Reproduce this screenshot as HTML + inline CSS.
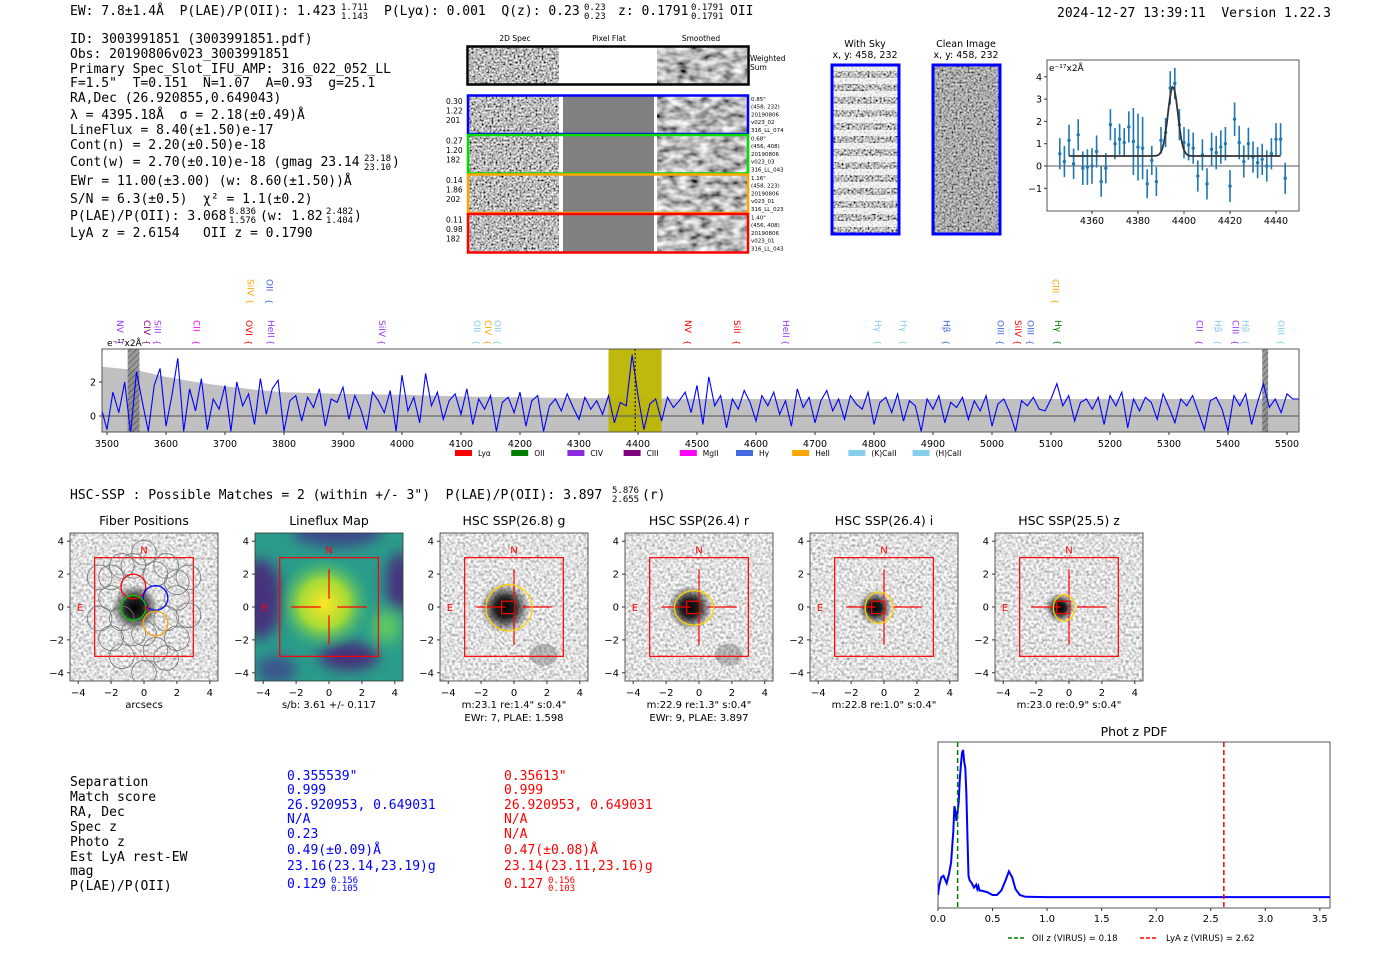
<!DOCTYPE html>
<html><head><meta charset="utf-8">
<style>
html,body{margin:0;padding:0;background:#fff;}
svg{display:block;}
.m{font-family:"DejaVu Sans Mono","Liberation Mono",monospace;font-size:13px;fill:#000;}
.f{font-size:9px;}
.s{font-family:"DejaVu Sans","Liberation Sans",sans-serif;}
</style></head>
<body>
<svg id="root" width="1400" height="953" viewBox="0 0 1400 953" xmlns="http://www.w3.org/2000/svg">
<defs>
<filter id="nz2d" x="0" y="0" width="1" height="1"><feTurbulence type="fractalNoise" baseFrequency="0.5" numOctaves="2" seed="2"/><feColorMatrix type="matrix" values="1.9 0 0 0 -0.45  1.9 0 0 0 -0.45  1.9 0 0 0 -0.45  0 0 0 0 1"/></filter>
<filter id="nzsm" x="0" y="0" width="1" height="1"><feTurbulence type="fractalNoise" baseFrequency="0.09 0.15" numOctaves="2" seed="5"/><feColorMatrix type="matrix" values="1.5 0 0 0 -0.25  1.5 0 0 0 -0.25  1.5 0 0 0 -0.25  0 0 0 0 1"/></filter>
<filter id="nzhsc" x="0" y="0" width="1" height="1"><feTurbulence type="fractalNoise" baseFrequency="0.38" numOctaves="1" seed="7"/><feColorMatrix type="matrix" values="1.4 0 0 0 0.05  1.4 0 0 0 0.05  1.4 0 0 0 0.05  0 0 0 0 1"/></filter>
<filter id="blur6" x="-0.2" y="-0.2" width="1.4" height="1.4"><feGaussianBlur stdDeviation="7"/></filter>
<radialGradient id="blob"><stop offset="0" stop-color="#000"/><stop offset="0.4" stop-color="#000" stop-opacity="0.85"/><stop offset="1" stop-color="#000" stop-opacity="0"/></radialGradient>
<radialGradient id="ylw"><stop offset="0" stop-color="#fde725"/><stop offset="0.5" stop-color="#a5db36"/><stop offset="1" stop-color="#35b779" stop-opacity="0"/></radialGradient>
<pattern id="stripes" width="10" height="13" patternUnits="userSpaceOnUse"><rect x="0" y="0" width="10" height="6" fill="#fff" opacity="0.75"/></pattern>
<pattern id="hatch" width="6" height="6" patternUnits="userSpaceOnUse"><rect width="6" height="6" fill="#888"/><path d="M0 6 L6 0" stroke="#444" stroke-width="0.8"/></pattern>
<clipPath id="specClip"><rect x="102" y="349" width="1197" height="83"/></clipPath>
<clipPath id="insClip"><rect x="1047" y="60" width="252" height="151"/></clipPath>
<clipPath id="pdfClip"><rect x="938" y="742" width="392" height="166"/></clipPath>
</defs>

<g>
<text class="m" x="70" y="15" xml:space="preserve">EW: 7.8±1.4Å  P(LAE)/P(OII): 1.423</text>
<text class="m f" x="341" y="10">1.711</text><text class="m f" x="341" y="19">1.143</text>
<text class="m" x="384" y="15" xml:space="preserve">P(Lyα): 0.001  Q(z): 0.23</text>
<text class="m f" x="584" y="10">0.23</text><text class="m f" x="584" y="19">0.23</text>
<text class="m" x="618" y="15">z: 0.1791</text>
<text class="m f" x="691" y="10">0.1791</text><text class="m f" x="691" y="19">0.1791</text>
<text class="m" x="730" y="15">OII</text>
<text class="m" x="1057" y="17" xml:space="preserve">2024-12-27 13:39:11  Version 1.22.3</text>
</g>

<g>
<text class="m" x="70" y="43">ID: 3003991851 (3003991851.pdf)</text>
<text class="m" x="70" y="58">Obs: 20190806v023_3003991851</text>
<text class="m" x="70" y="73">Primary Spec_Slot_IFU_AMP: 316_022_052_LL</text>
<text class="m" x="70" y="87" xml:space="preserve">F=1.5"  T=0.151  N=1.07  A=0.93  g=25.1</text>
<text class="m" x="70" y="102">RA,Dec (26.920855,0.649043)</text>
<text class="m" x="70" y="119" xml:space="preserve">λ = 4395.18Å  σ = 2.18(±0.49)Å</text>
<text class="m" x="70" y="134">LineFlux = 8.40(±1.50)e-17</text>
<text class="m" x="70" y="149">Cont(n) = 2.20(±0.50)e-18</text>
<text class="m" x="70" y="166">Cont(w) = 2.70(±0.10)e-18 (gmag 23.14</text>
<text class="m f" x="364" y="161">23.18</text><text class="m f" x="364" y="170">23.10</text>
<text class="m" x="392" y="166">)</text>
<text class="m" x="70" y="185">EWr = 11.00(±3.00) (w: 8.60(±1.50))Å</text>
<text class="m" x="70" y="203" xml:space="preserve">S/N = 6.3(±0.5)  χ² = 1.1(±0.2)</text>
<text class="m" x="70" y="220">P(LAE)/P(OII): 3.068</text>
<text class="m f" x="229" y="214">8.836</text><text class="m f" x="229" y="223">1.576</text>
<text class="m" x="260" y="220">(w: 1.82</text>
<text class="m f" x="326" y="214">2.482</text><text class="m f" x="326" y="223">1.404</text>
<text class="m" x="354" y="220">)</text>
<text class="m" x="70" y="237" xml:space="preserve">LyA z = 2.6154   OII z = 0.1790</text>
</g>

<g class="s">
<text x="515" y="41" font-size="7.5" text-anchor="middle">2D Spec</text>
<text x="609" y="41" font-size="7.5" text-anchor="middle">Pixel Flat</text>
<text x="701" y="41" font-size="7.5" text-anchor="middle">Smoothed</text>
<g>
<rect x="469" y="47" width="90" height="37" fill="#fff" filter="url(#nz2d)"/>
<rect x="657" y="47" width="90" height="37" fill="#fff" filter="url(#nzsm)"/>
<rect x="467.5" y="46.5" width="281" height="38" fill="none" stroke="#000" stroke-width="2.5"/>
<text x="750" y="61" font-size="7.5">Weighted</text><text x="750" y="70" font-size="7.5">Sum</text>
</g>
<g id="rows"></g>
</g>

<g class="s">
<text x="865" y="47" font-size="9.5" text-anchor="middle">With Sky</text>
<text x="865" y="58" font-size="9.5" text-anchor="middle">x, y: 458, 232</text>
<rect x="832" y="65" width="67" height="169" fill="#fff" filter="url(#nz2d)"/>
<rect x="832" y="65" width="67" height="169" fill="url(#stripes)"/>
<rect x="832" y="65" width="67" height="169" fill="none" stroke="#0000ff" stroke-width="3"/>
</g>
<g class="s">
<text x="966" y="47" font-size="9.5" text-anchor="middle">Clean Image</text>
<text x="966" y="58" font-size="9.5" text-anchor="middle">x, y: 458, 232</text>
<rect x="933" y="65" width="67" height="169" fill="#fff" filter="url(#nz2d)"/>
<rect x="933" y="65" width="67" height="169" fill="#777" opacity="0.25"/>
<rect x="933" y="65" width="67" height="169" fill="none" stroke="#0000ff" stroke-width="3"/>
</g>

<g id="inset" class="s"></g>
<g id="spec" class="s"></g>

<text class="m" x="70" y="499" xml:space="preserve">HSC-SSP : Possible Matches = 2 (within +/- 3")  P(LAE)/P(OII): 3.897</text>
<text class="m f" x="612" y="493">5.876</text><text class="m f" x="612" y="502">2.655</text>
<text class="m" x="642" y="499">(r)</text>
<g id="panels" class="s"></g>

<g class="m">
<text x="70" y="786">Separation</text><text x="70" y="801">Match score</text><text x="70" y="816">RA, Dec</text><text x="70" y="831">Spec z</text><text x="70" y="846">Photo z</text><text x="70" y="861">Est LyA rest-EW</text><text x="70" y="875">mag</text><text x="70" y="890">P(LAE)/P(OII)</text>
<text x="287" y="780" style="fill:#00f">0.355539"</text><text x="287" y="794" style="fill:#00f">0.999</text><text x="287" y="809" style="fill:#00f">26.920953, 0.649031</text><text x="287" y="823" style="fill:#00f">N/A</text><text x="287" y="838" style="fill:#00f">0.23</text><text x="287" y="854" style="fill:#00f">0.49(±0.09)Å</text><text x="287" y="870" style="fill:#00f">23.16(23.14,23.19)g</text><text x="287" y="888" style="fill:#00f">0.129</text>
<text x="331" y="883" font-size="9" style="fill:#00f">0.156</text><text x="331" y="891" font-size="9" style="fill:#00f">0.105</text>
<text x="504" y="780" style="fill:#f00">0.35613"</text><text x="504" y="794" style="fill:#f00">0.999</text><text x="504" y="809" style="fill:#f00">26.920953, 0.649031</text><text x="504" y="823" style="fill:#f00">N/A</text><text x="504" y="838" style="fill:#f00">N/A</text><text x="504" y="854" style="fill:#f00">0.47(±0.08)Å</text><text x="504" y="870" style="fill:#f00">23.14(23.11,23.16)g</text><text x="504" y="888" style="fill:#f00">0.127</text>
<text x="548" y="883" font-size="9" style="fill:#f00">0.156</text><text x="548" y="891" font-size="9" style="fill:#f00">0.103</text>
</g>

<g id="pdf" class="s"></g>
</svg>

<script>
// ---------- data ----------
const specStart = 3490;
const specStep = 10;
const specFlux = [
0.5,-0.8,1.4,0.2,2.0,-1.0,2.6,0.8,-0.9,1.8,
2.8,-0.6,1.2,3.4,-0.9,1.6,0.3,2.2,-0.8,1.0,
0.4,1.8,-0.9,2.0,0.6,1.3,-0.5,2.2,0.1,1.6,
2.1,-0.9,0.9,1.2,-0.3,1.1,0.5,1.6,-0.6,1.0,
0.8,1.7,-0.2,1.2,0.4,-0.8,1.4,0.9,0.2,1.5,
-0.9,2.4,0.3,1.1,-0.4,2.5,0.6,1.4,-0.2,0.9,
1.3,0.1,1.6,-0.5,1.0,0.4,1.2,-0.9,0.8,1.1,
0.2,1.4,-0.6,0.9,1.2,-0.9,0.6,1.0,0.3,1.3,
0.5,-0.2,1.1,0.4,0.9,0.1,1.2,-0.4,0.8,0.6,
3.6,1.2,-0.8,0.7,1.0,-0.3,1.1,0.5,0.9,1.4,
0.2,1.8,-0.5,2.3,0.6,1.2,-0.7,1.0,0.4,1.5,
0.8,-0.3,1.2,0.6,1.4,0.1,0.9,-0.6,1.6,0.5,
1.1,-0.4,0.9,1.5,0.3,1.0,-0.2,1.2,0.7,0.4,
1.4,-0.5,0.8,1.1,0.2,1.3,-0.3,0.9,0.6,-0.9,
1.0,0.4,1.2,-0.4,0.8,0.5,1.1,-0.2,0.9,0.3,
1.2,-0.6,0.7,1.0,0.2,-0.9,0.9,0.6,1.1,0.4,
0.3,1.0,1.9,0.6,1.2,-0.3,0.8,1.0,0.4,1.1,
-0.5,1.2,0.6,1.4,-0.7,1.0,0.3,1.1,0.8,-0.2,
1.3,0.5,-0.4,1.0,0.6,1.2,0.2,-0.8,0.9,1.1,
0.4,-0.9,1.2,0.6,1.3,-0.5,0.8,1.9,0.5,1.0,
0.2,1.3,1.0,1.0];
const errWave = [3490,3550,3600,3650,3700,3750,3800,3900,4000,4100,4200,4300,4400,4500,5500,5520];
const errVal  = [2.9,2.7,2.3,2.0,1.75,1.55,1.4,1.3,1.25,1.15,1.1,1.05,1.05,1.0,1.0,1.0];
const specTicks = [3500,3600,3700,3800,3900,4000,4100,4200,4300,4400,4500,4600,4700,4800,4900,5000,5100,5200,5300,5400,5500];
const specYTicks = [0,2];
const fitWindow = [4350,4440];
const skyBands = [[3535,3555],[5458,5468]];
const lineNames = ["NV","CIV","SiII","CII","OVI","HeII","SiIV","OII","SiIV","OII","CIV","OII","NV","SiII","HeII","Hγ","Hγ","Hβ","OIII","SiIV","OIII","Hγ","CIII","CII","Hβ","CIII","Hβ","OIII"];
const lineWave  = [3522,3568,3586,3652,3741,3778,3743,3775,3966,4127,4146,4162,4485,4568,4651,4807,4850,4923,5014,5044,5065,5112,5108,5352,5383,5413,5430,5490];
const lineColor = ["#9933ff","#8b008b","#9933ff","#ff00ff","#ff0000","#9933ff","#ffa500","#4169e1","#9933ff","#87ceeb","#ffa500","#87ceeb","#ff0000","#ff0000","#9933ff","#87ceeb","#87ceeb","#4169e1","#4169e1","#ff0000","#4169e1","#008000","#ffa500","#9933ff","#87ceeb","#9933ff","#87ceeb","#87ceeb"];
const lineRow   = [0,0,0,0,0,0,1,1,0,0,0,0,0,0,0,0,0,0,0,0,0,0,1,0,0,0,0,0];
const legendNames = ["Lyα","OII","CIV","CIII","MgII","Hγ","HeII","(K)CaII","(H)CaII"];
const legendColors = ["#ff0000","#008000","#8a2be2","#800080","#ff00ff","#4169e1","#ffa500","#87ceeb","#87ceeb"];

const insetStart = 4346;
const insetStep = 2;
const insetFlux = [0.55,0.2,1.15,0.1,1.4,-0.1,-0.05,0.0,0.65,-0.7,-0.1,1.85,1.0,1.2,1.05,1.75,1.1,0.85,0.8,-0.8,0.25,-0.7,1.15,1.5,3.5,3.7,1.85,1.05,0.95,0.8,-0.45,0.5,-0.8,0.75,0.6,0.85,1.0,-0.9,2.1,1.05,0.2,1.0,0.4,0.15,0.3,0.0,0.55,1.2,1.2,-0.55];
const insetErr  = [0.7,0.7,0.7,0.68,0.7,0.75,0.8,0.8,0.72,0.68,0.68,0.7,0.7,0.7,0.65,0.7,1.5,1.5,1.4,0.65,0.65,0.65,0.6,0.65,0.75,0.7,0.7,0.7,0.7,0.7,0.7,0.7,0.7,0.75,0.75,0.75,0.75,0.72,0.75,0.75,0.72,0.72,0.7,0.7,0.7,0.7,0.7,0.72,0.72,0.7];
const fitCont = 0.45, fitAmp = 3.1, fitMu = 4395.18, fitSigma = 2.18, fitRange = [4350,4442];
const insetXTicks = [4360,4380,4400,4420,4440];
const insetYTicks = [-1,0,1,2,3,4];

const pdfZ   = [0.0,0.01,0.03,0.05,0.08,0.1,0.12,0.14,0.15,0.16,0.17,0.18,0.19,0.2,0.21,0.22,0.23,0.24,0.25,0.26,0.27,0.28,0.29,0.31,0.33,0.35,0.36,0.37,0.38,0.4,0.45,0.5,0.54,0.58,0.62,0.65,0.68,0.71,0.75,0.8,1.0,2.0,3.6];
const pdfVal = [0.02,0.08,0.14,0.15,0.1,0.16,0.24,0.45,0.62,0.58,0.52,0.58,0.65,0.8,0.9,0.98,1.0,0.92,0.88,0.7,0.4,0.15,0.12,0.1,0.07,0.09,0.06,0.08,0.05,0.05,0.04,0.02,0.02,0.05,0.12,0.18,0.14,0.06,0.02,0.008,0.006,0.006,0.006];
const pdfXTicks = [0.0,0.5,1.0,1.5,2.0,2.5,3.0,3.5];
const oiiZ = 0.18, lyaZ = 2.62;

const panelTitles = ["Fiber Positions","Lineflux Map","HSC SSP(26.8) g","HSC SSP(26.4) r","HSC SSP(26.4) i","HSC SSP(25.5) z"];
const panelCaption1 = ["arcsecs","s/b: 3.61 +/- 0.117","m:23.1  re:1.4\"  s:0.4\"","m:22.9  re:1.3\"  s:0.4\"","m:22.8  re:1.0\"  s:0.4\"","m:23.0  re:0.9\"  s:0.4\""];
const panelCaption2 = ["","","EWr: 7, PLAE: 1.598","EWr: 9, PLAE: 3.897","",""];
const ellRx = [0,0,1.4,1.2,0.85,0.65];
const ellRy = [0,0,1.4,1.05,0.95,0.8];
const blobR = [0.9,0,0.95,0.85,0.65,0.55];
const panelTicks = [-4,-2,0,2,4];
const fiberX = [-0.65,0.7,-0.65,0.7];
const fiberY = [1.25,0.55,-0.05,-1.0];
const fiberColor = ["#ff0000","#0000ff","#00cc00","#ffa500"];
const grayFibX = [-2.7,-1.35,0,1.35,2.7,-2.0,-0.65,0.7,2.0,-2.7,-1.35,1.35,2.7,-2.0,0.7,2.0,-1.35,0,1.35,-0.65,0,-2.0,2.0];
const grayFibY = [1.8,2.5,3.3,2.5,1.8,0.55,2.5,2.0,0.55,-0.7,-0.7,-0.7,-0.5,-1.9,-2.6,-1.9,-3.0,-1.6,-3.1,-1.6,-4.0,1.8,1.5];

const rowColors = ["#0000ff","#00dd00","#ffa500","#ff0000"];
const rowLeft = [["0.30","1.22","201"],["0.27","1.20","182"],["0.14","1.86","202"],["0.11","0.98","182"]];
const rowRight = [["0.85\"","(458, 232)","20190806","v023_02","316_LL_074"],["0.68\"","(456, 408)","20190806","v023_03","316_LL_043"],["1.16\"","(458, 223)","20190806","v023_01","316_LL_023"],["1.40\"","(456, 408)","20190806","v023_01","316_LL_043"]];

// ---------- helpers ----------
const NS = 'http://www.w3.org/2000/svg';
function mk(parent, tag, attrs, txt) {
  const el = document.createElementNS(NS, tag);
  for (const k in attrs) el.setAttribute(k, attrs[k]);
  if (txt !== undefined) el.textContent = txt;
  parent.appendChild(el);
  return el;
}
function interp(xs, ys, x) {
  if (x <= xs[0]) return ys[0];
  for (let i = 1; i < xs.length; i++) if (x <= xs[i]) { const t = (x - xs[i-1]) / (xs[i] - xs[i-1]); return ys[i-1] + t * (ys[i] - ys[i-1]); }
  return ys[ys.length-1];
}

// ---------- 2D spec rows ----------
(function(){
  const g = document.getElementById('rows');
  for (let r = 0; r < 4; r++) {
    const y = 95 + r * 39.5;
    const row = mk(g, 'g', {});
    
    
    mk(row, 'rect', {x:469, y:y, width:90, height:39.5, fill:'#fff', filter:'url(#nz2d)'});
    mk(row, 'rect', {x:563, y:y, width:91, height:39.5, fill:'#808080'});
    mk(row, 'rect', {x:657, y:y, width:90, height:39.5, fill:'#fff', filter:'url(#nzsm)'});
    mk(row, 'rect', {x:468, y:y+0.5, width:280, height:38.5, fill:'none', stroke:rowColors[r], 'stroke-width':2.5});
    for (let k = 0; k < 3; k++) mk(row, 'text', {x:446, y:y+9+k*9.5, 'font-size':7.5}, rowLeft[r][k]);
    for (let k = 0; k < 5; k++) mk(row, 'text', {x:751, y:y+6+k*7.7, 'font-size':5.5}, rowRight[r][k]);
  }
})();

// ---------- inset ----------
(function(){
  const g = document.getElementById('inset');
  const X = w => 1092 + (w - 4360) * 2.3;
  const Y = v => 166 - v * 22.3;
  mk(g, 'rect', {x:1047, y:60, width:252, height:151, fill:'#fff', stroke:'#555', 'stroke-width':1});
  const zl = mk(g, 'line', {x1:1047, x2:1299, y1:Y(0), y2:Y(0), stroke:'#555', 'stroke-width':1});
  
  const c = mk(g, 'g', {'clip-path':'url(#insClip)'});
  insetFlux.forEach((v, i) => {
    const w = insetStart + i * insetStep;
    const e = insetErr[i];
    const bar = mk(c, 'line', {x1:X(w), x2:X(w), y1:Y(v-e), y2:Y(v+e), stroke:'#1f77b4', 'stroke-width':1.6});
    
    const p = mk(c, 'circle', {cx:X(w), cy:Y(v), r:1.7, fill:'#1f77b4'});
    
  });
  let d = '';
  for (let w = fitRange[0]; w <= fitRange[1]; w += 0.5) {
    const v = fitCont + fitAmp * Math.exp(-0.5 * Math.pow((w - fitMu) / fitSigma, 2));
    d += (d ? 'L' : 'M') + X(w).toFixed(1) + ' ' + Y(v).toFixed(1);
  }
  const fit = mk(c, 'path', {d:d, fill:'none', stroke:'#333', 'stroke-width':1.8});
  
  insetXTicks.forEach(t => {
    mk(g, 'line', {x1:X(t), x2:X(t), y1:211, y2:214, stroke:'#333'});
    const tl = mk(g, 'text', {x:X(t), y:224, 'font-size':9.5, 'text-anchor':'middle'}, String(t));
    
  });
  insetYTicks.forEach(t => {
    mk(g, 'line', {x1:1044, x2:1047, y1:Y(t), y2:Y(t), stroke:'#333'});
    const tl = mk(g, 'text', {x:1042, y:Y(t)+3.5, 'font-size':9.5, 'text-anchor':'end'}, t < 0 ? '−' + (-t) : String(t));
    
  });
  const u = mk(g, 'text', {x:1049, y:71, 'font-size':9}, 'e⁻¹⁷x2Å');
  
})();

// ---------- full spectrum ----------
(function(){
  const g = document.getElementById('spec');
  const X = w => 107 + (w - 3500) * 0.59;
  const Y = v => 416 - v * 17;
  mk(g, 'rect', {x:102, y:349, width:1197, height:83, fill:'#fff'});
  const c = mk(g, 'g', {'clip-path':'url(#specClip)'});
  let top = '', bot = '';
  for (let w = 3490; w <= 5520; w += 10) {
    const e = interp(errWave, errVal, w);
    top += (top ? 'L' : 'M') + X(w).toFixed(1) + ' ' + Y(e).toFixed(1);
    bot = 'L' + X(w).toFixed(1) + ' ' + Y(-e).toFixed(1) + bot;
  }
  const band = mk(c, 'path', {d: top + bot + 'Z', fill:'#c0c0c0'});
  
  const fw = mk(c, 'rect', {x:X(fitWindow[0]), y:349, width:X(fitWindow[1]) - X(fitWindow[0]), height:83, fill:'#bdb500', opacity:0.95});
  
  skyBands.forEach(b => {
    const s = mk(c, 'rect', {x:X(b[0]), y:349, width:X(b[1]) - X(b[0]), height:83, fill:'url(#hatch)', opacity:0.85});
    
  });
  const zl = mk(c, 'line', {x1:102, x2:1299, y1:Y(0), y2:Y(0), stroke:'#666', 'stroke-width':1.2});
  
  let d = '';
  specFlux.forEach((v, i) => {
    const w = specStart + i * specStep;
    d += (d ? 'L' : 'M') + X(w).toFixed(1) + ' ' + Y(v).toFixed(1);
  });
  const ln = mk(c, 'path', {d:d, fill:'none', stroke:'#0000ff', 'stroke-width':1.1});
  
  const dl = mk(c, 'line', {x1:X(4395.18), x2:X(4395.18), y1:349, y2:432, stroke:'#000', 'stroke-dasharray':'2,2', 'stroke-width':1});
  
  mk(g, 'rect', {x:102, y:349, width:1197, height:83, fill:'none', stroke:'#555', 'stroke-width':1});
  specTicks.forEach(t => {
    mk(g, 'line', {x1:X(t), x2:X(t), y1:432, y2:435, stroke:'#333'});
    const tl = mk(g, 'text', {x:X(t), y:447, 'font-size':9.5, 'text-anchor':'middle'}, String(t));
    
  });
  specYTicks.forEach(t => {
    mk(g, 'line', {x1:99, x2:102, y1:Y(t), y2:Y(t), stroke:'#333'});
    const tl = mk(g, 'text', {x:96, y:Y(t)+3.5, 'font-size':9.5, 'text-anchor':'end'}, String(t));
    
  });
  const u = mk(g, 'text', {x:107, y:346, 'font-size':9}, 'e⁻¹⁷x2Å');
  
  lineNames.forEach((n, i) => {
    const x = X(lineWave[i]);
    const yb = lineRow[i] ? 305 : 346;
    const t = mk(g, 'text', {x:0, y:0, 'font-size':9, fill:lineColor[i], transform:'translate(' + (x - 3) + ',' + (yb - 26) + ') rotate(90)'}, n);
    
    const br = mk(g, 'text', {x:0, y:0, 'font-size':8, fill:lineColor[i], transform:'translate(' + (x - 3) + ',' + (yb - 6) + ') rotate(90)'}, '{');
    
  });
  legendNames.forEach((n, i) => {
    const lx = 455 + i * 56.2 + (i >= 8 ? 8 : 0);
    const r = mk(g, 'rect', {x:lx, y:450, width:17, height:6, fill:legendColors[i]});
    
    const t = mk(g, 'text', {x:lx + 23, y:456, 'font-size':7.5}, n);
    
  });
})();

// ---------- HSC panels ----------
(function(){
  const g = document.getElementById('panels');
  const lefts = [70, 255, 440, 625, 810, 995];
  for (let p = 0; p < 6; p++) {
    const L = lefts[p], T = 533, W = 148;
    const cx = L + W/2, cy = T + W/2, s = W / 9;
    const X = a => cx + a * s, Y = a => cy - a * s;
    const pg = mk(g, 'g', {});
    
    
    const clipId = 'pc' + p;
    const cp = mk(pg, 'clipPath', {id:clipId});
    mk(cp, 'rect', {x:L, y:T, width:W, height:W});
    const inner = mk(pg, 'g', {'clip-path':'url(#' + clipId + ')'});
    if (p === 1) {
      mk(inner, 'rect', {x:L, y:T, width:W, height:W, fill:'#2a9d8a'});
      const bl = mk(inner, 'g', {filter:'url(#blur6)'});
      mk(bl, 'ellipse', {cx:X(-4.2), cy:Y(0.5), rx:22, ry:40, fill:'#46327e'});
      mk(bl, 'ellipse', {cx:X(0.5), cy:Y(4.6), rx:45, ry:16, fill:'#3e4a89'});
      mk(bl, 'ellipse', {cx:X(4.3), cy:Y(1.5), rx:14, ry:30, fill:'#46327e'});
      mk(bl, 'ellipse', {cx:X(1.2), cy:Y(-3.0), rx:30, ry:14, fill:'#472d7b'});
      mk(bl, 'ellipse', {cx:X(-3.2), cy:Y(-3.8), rx:20, ry:14, fill:'#3b528b'});
      mk(bl, 'ellipse', {cx:X(3.5), cy:Y(-1.2), rx:14, ry:16, fill:'#5ec962'});
      mk(inner, 'circle', {cx:X(-0.3), cy:Y(0.2), r:48, fill:'url(#ylw)'});
    } else {
      mk(inner, 'rect', {x:L, y:T, width:W, height:W, fill:'#fff', filter:'url(#nzhsc)'});
      mk(inner, 'circle', {cx:X(-0.55), cy:Y(-0.05), r:blobR[p] * s * 1.6, fill:'url(#blob)'});
      if (p === 2 || p === 3) mk(inner, 'ellipse', {cx:X(1.8), cy:Y(-2.9), rx:14, ry:11, fill:'#555', opacity:0.35});
    }
    mk(inner, 'rect', {x:X(-3), y:Y(3), width:6*s, height:6*s, fill:'none', stroke:'#ff0000', 'stroke-width':1.2});
    if (p === 0) {
      grayFibX.forEach((fx, i) => {
        const c = mk(inner, 'circle', {cx:X(fx), cy:Y(grayFibY[i]), r:0.75*s, fill:'none', stroke:'#777', 'stroke-width':0.8});
        
      });
      fiberX.forEach((fx, i) => {
        const c = mk(inner, 'circle', {cx:X(fx), cy:Y(fiberY[i]), r:0.75*s, fill:'none', stroke:fiberColor[i], 'stroke-width':1.3});
        
      });
      mk(inner, 'text', {x:X(0)-2, y:Y(0)+4, 'font-size':10, fill:'#f00'}, '+');
    } else {
      [[0.5,2.3],[-0.5,-2.3]].forEach(r => {
        mk(inner, 'line', {x1:X(r[0]), x2:X(r[1]), y1:Y(0), y2:Y(0), stroke:'#f00', 'stroke-width':1.2});
        mk(inner, 'line', {x1:X(0), x2:X(0), y1:Y(r[0]), y2:Y(r[1]), stroke:'#f00', 'stroke-width':1.2});
      });
      if (p >= 2) {
        mk(inner, 'rect', {x:X(-0.75), y:Y(0.35), width:0.8*s, height:0.75*s, fill:'none', stroke:'#f00', 'stroke-width':1.2});
        const e = mk(inner, 'ellipse', {cx:X(-0.3), cy:Y(-0.05), rx:ellRx[p]*s, ry:ellRy[p]*s, fill:'none', stroke:'#ffd000', 'stroke-width':1.3});
        
      }
    }
    mk(inner, 'text', {x:X(0), y:Y(3.5)+4, 'font-size':10, fill:'#f00', 'text-anchor':'middle'}, 'N');
    mk(inner, 'text', {x:X(-3.9), y:Y(0)+4, 'font-size':10, fill:'#f00', 'text-anchor':'middle'}, 'E');
    mk(pg, 'rect', {x:L, y:T, width:W, height:W, fill:'none', stroke:'#333', 'stroke-width':0.8});
    const tt = mk(pg, 'text', {x:cx, y:525, 'font-size':12.5, 'text-anchor':'middle'}, panelTitles[p]);
    
    panelTicks.forEach(t => {
      mk(pg, 'line', {x1:X(t), x2:X(t), y1:T+W, y2:T+W+3, stroke:'#333'});
      mk(pg, 'text', {x:X(t), y:T+W+15, 'font-size':10, 'text-anchor':'middle'}, t < 0 ? '−' + (-t) : String(t));
      mk(pg, 'line', {x1:L-3, x2:L, y1:Y(t), y2:Y(t), stroke:'#333'});
      mk(pg, 'text', {x:L-6, y:Y(t)+3.5, 'font-size':10, 'text-anchor':'end'}, t < 0 ? '−' + (-t) : String(t));
    });
    const c1 = mk(pg, 'text', {x:cx, y:T+W+27, 'font-size':10, 'text-anchor':'middle', 'xml:space':'preserve'}, panelCaption1[p]);
    
    if (panelCaption2[p]) mk(pg, 'text', {x:cx, y:T+W+40, 'font-size':10, 'text-anchor':'middle'}, panelCaption2[p]);
  }
})();

// ---------- phot z pdf ----------
(function(){
  const g = document.getElementById('pdf');
  const X = z => 938 + z * 109.1;
  const Y = v => 898 - v * 148;
  mk(g, 'rect', {x:938, y:742, width:392, height:166, fill:'#fff', stroke:'#555', 'stroke-width':1});
  const t = mk(g, 'text', {x:1134, y:736, 'font-size':12.5, 'text-anchor':'middle'}, 'Phot z PDF');
  
  const c = mk(g, 'g', {'clip-path':'url(#pdfClip)'});
  let d = '';
  pdfZ.forEach((z, i) => { d += (d ? 'L' : 'M') + X(z).toFixed(1) + ' ' + Y(pdfVal[i]).toFixed(1); });
  const ln = mk(c, 'path', {d:d, fill:'none', stroke:'#0000ff', 'stroke-width':2});
  
  const gl = mk(c, 'line', {x1:X(oiiZ), x2:X(oiiZ), y1:742, y2:908, stroke:'#008000', 'stroke-width':1.5, 'stroke-dasharray':'5,3'});
  
  const rl = mk(c, 'line', {x1:X(lyaZ), x2:X(lyaZ), y1:742, y2:908, stroke:'#ff0000', 'stroke-width':1.5, 'stroke-dasharray':'5,3'});
  
  pdfXTicks.forEach(v => {
    mk(g, 'line', {x1:X(v), x2:X(v), y1:908, y2:911, stroke:'#333'});
    const tl = mk(g, 'text', {x:X(v), y:922, 'font-size':10, 'text-anchor':'middle'}, v.toFixed(1));
    
  });
  mk(g, 'line', {x1:1008, x2:1025, y1:938, y2:938, stroke:'#008000', 'stroke-width':1.5, 'stroke-dasharray':'4,2'});
  const l1 = mk(g, 'text', {x:1032, y:941, 'font-size':8.5}, 'OII z (VIRUS) = 0.18');
  
  mk(g, 'line', {x1:1140, x2:1157, y1:938, y2:938, stroke:'#ff0000', 'stroke-width':1.5, 'stroke-dasharray':'4,2'});
  const l2 = mk(g, 'text', {x:1166, y:941, 'font-size':8.5}, 'LyA z (VIRUS) = 2.62');
  
})();
</script>
</body></html>
